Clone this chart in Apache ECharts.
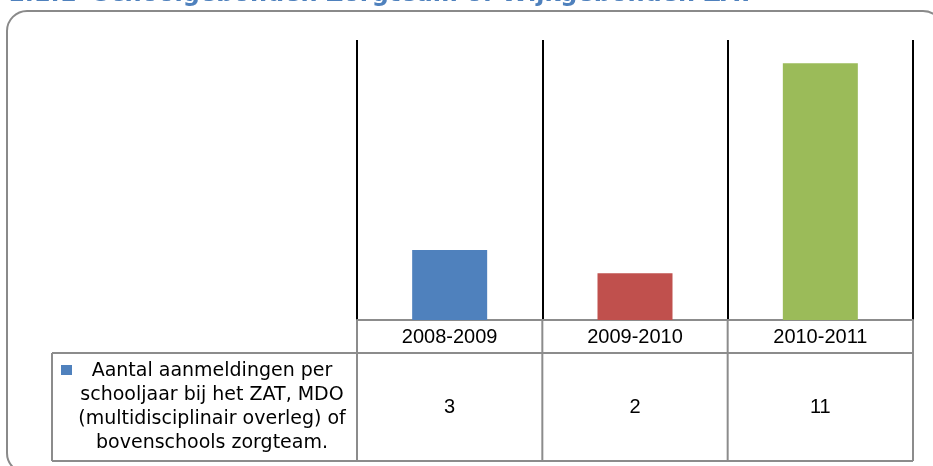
<!DOCTYPE html>
<html>
<head>
<meta charset="utf-8">
<script src="https://cdn.jsdelivr.net/npm/echarts@6/dist/echarts.min.js"></script>
<style>
html,body{margin:0;padding:0;background:#fff;}
#c{width:933px;height:466px;}
</style>
</head>
<body>
<div id="c"></div>
<script>
const titleText = '1.1.1  Schoolgebonden Zorgteam of Wijkgebonden ZAT';
const categories = ['2008-2009', '2009-2010', '2010-2011'];
const values = [3, 2, 11];
const seriesName = 'Aantal aanmeldingen per\nschooljaar bij het ZAT, MDO\n(multidisciplinair overleg) of\nbovenschools zorgteam.';
const barColors = ['#4F81BD', '#C0504D', '#9BBB59'];
const yMax = 12;

const chart = echarts.init(document.getElementById('c'), null, {renderer: 'canvas'});
const GRAY = '#8c8c8c';

const option = {
  animation: false,
  backgroundColor: '#ffffff',
  grid: {left: 357, right: 20, top: 40, bottom: 146, containLabel: false},
  xAxis: [
    {
      type: 'category',
      data: categories,
      position: 'bottom',
      axisLine: {show: true, lineStyle: {color: GRAY, width: 2}},
      axisTick: {show: false},
      axisLabel: {fontFamily: 'Liberation Sans', fontSize: 20, color: '#000', margin: 7},
      splitLine: {show: true, lineStyle: {color: '#000', width: 2}}
    },
    {
      type: 'category',
      data: values.map(String),
      position: 'bottom',
      offset: 0,
      axisLine: {show: false},
      axisTick: {show: false},
      axisLabel: {fontFamily: 'Liberation Sans', fontSize: 20, color: '#000', margin: 77},
      splitLine: {show: false}
    }
  ],
  yAxis: {
    type: 'value', min: 0, max: yMax, interval: 2,
    show: false,
    splitLine: {show: false}
  },
  series: [{
    name: seriesName,
    type: 'bar',
    xAxisIndex: 0,
    barWidth: 75,
    data: values.map((v, i) => ({value: v, itemStyle: {color: barColors[i]}}))
  }]
};
chart.setOption(option);

// Table lines derived from the category axis scale
const c0 = chart.convertToPixel({xAxisIndex: 0}, categories[0]);
const c1 = chart.convertToPixel({xAxisIndex: 0}, categories[1]);
const bw = c1 - c0;
const bounds = [];
for (let i = 0; i <= categories.length; i++) bounds.push(c0 - bw / 2 + i * bw);
const axisY = chart.convertToPixel({yAxisIndex: 0}, 0);
const rowY = axisY + 33;
const botY = axisY + 141;
const tableLeft = 52;

const g = [];
// rounded frame
g.push({type: 'rect', shape: {x: 7, y: 11, width: 936, height: 462, r: 20},
  style: {fill: 'none', stroke: '#8a8a8a', lineWidth: 2}, z: 0});
// title (clipped at top)
g.push({type: 'text', x: 8, y: -5, style: {text: titleText, fill: '#4F81BD',
  fontFamily: 'DejaVu Sans', fontWeight: 'bold', fontSize: 24, fontStyle: 'normal',
  verticalAlign: 'middle', align: 'left'}, z: 10});
// vertical table lines
bounds.forEach(x => {
  g.push({type: 'line', shape: {x1: x, y1: axisY, x2: x, y2: botY}, style: {stroke: GRAY, lineWidth: 2}, z: 5});
});
g.push({type: 'line', shape: {x1: tableLeft, y1: rowY, x2: tableLeft, y2: botY}, style: {stroke: GRAY, lineWidth: 2}, z: 5});
g.push({type: 'line', shape: {x1: tableLeft, y1: rowY, x2: bounds[bounds.length - 1], y2: rowY}, style: {stroke: GRAY, lineWidth: 2}, z: 5});
g.push({type: 'line', shape: {x1: tableLeft, y1: botY, x2: bounds[bounds.length - 1], y2: botY}, style: {stroke: GRAY, lineWidth: 2}, z: 5});
// legend key & text
g.push({type: 'rect', shape: {x: 61, y: 365, width: 11, height: 10}, style: {fill: barColors[0]}, z: 6});
g.push({type: 'text', x: 212, y: (rowY + botY) / 2, style: {text: seriesName, fill: '#000',
  fontFamily: 'DejaVu Sans', fontSize: 19, align: 'center', verticalAlign: 'middle', lineHeight: 24}, z: 6});

chart.setOption({graphic: g});
</script>
</body>
</html>
